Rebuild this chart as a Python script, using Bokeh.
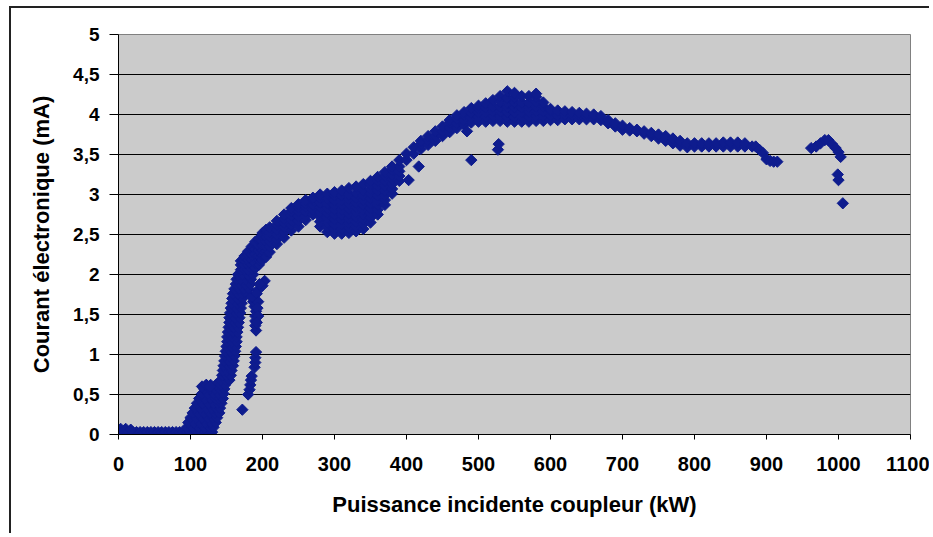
from bokeh.plotting import figure
from bokeh.models import Range1d, FixedTicker, CustomJSTickFormatter
from bokeh.embed import file_html
from bokeh.resources import INLINE

# ---------------- data ----------------
x_ticks = [0, 100, 200, 300, 400, 500, 600, 700, 800, 900, 1000, 1100]
y_ticks = [0, 0.5, 1, 1.5, 2, 2.5, 3, 3.5, 4, 4.5, 5]

# low-power baseline (kW, mA)
base_x = [0, 5, 10, 15, 20, 25, 30, 35, 40, 45, 50, 55, 60, 65, 70, 75, 80, 85,
          90, 95, 100, 105, 110, 115, 120, 125, 130, 3, 10, 17]
base_y = [0.03, 0.03, 0.03, 0.03, 0.03, 0.03, 0.03, 0.03, 0.03, 0.03, 0.03, 0.03,
          0.03, 0.03, 0.03, 0.03, 0.03, 0.03, 0.03, 0.03, 0.03, 0.03, 0.03, 0.03,
          0.03, 0.03, 0.03, 0.07, 0.07, 0.06]

# steep rise: (mA, [kW ...])
rise_rows = [
    (0.09, [95, 103, 111, 119, 126, 132]),
    (0.15, [97, 105, 113, 121, 128, 135]),
    (0.21, [100, 108, 116, 124, 131, 137]),
    (0.27, [103, 111, 119, 127, 134, 140]),
    (0.33, [106, 114, 122, 130, 136, 141]),
    (0.39, [109, 117, 125, 132, 138, 143]),
    (0.45, [112, 120, 128, 135, 140, 145]),
    (0.51, [116, 124, 132, 139, 146]),
    (0.57, [119, 127, 134, 141, 147]),
    (0.62, [122, 128, 135, 142, 148]),
    (0.68, [142, 149, 154]),
    (0.74, [144, 150, 156]),
    (0.80, [145, 151, 157]),
    (0.86, [146, 153, 159]),
    (0.92, [147, 154, 160]),
    (0.98, [148, 155, 161]),
    (1.04, [149, 156, 162]),
    (1.10, [150, 157, 163]),
    (1.16, [151, 158, 164]),
    (1.22, [151, 158, 164]),
    (1.28, [152, 159, 165]),
    (1.34, [153, 160, 166]),
    (1.40, [154, 161, 167]),
    (1.46, [154, 162, 168]),
    (1.52, [155, 163, 169]),
    (1.58, [156, 164, 170]),
    (1.64, [157, 165, 171]),
    (1.70, [158, 166, 172]),
    (1.76, [159, 166, 172, 178]),
    (1.82, [161, 167, 174, 181]),
    (1.88, [163, 169, 176, 183]),
    (1.94, [164, 170, 177, 184]),
    (2.00, [166, 172, 180, 187]),
]

# bend of the curve: (kW, [mA ...])
arc_cols = [
    (170, [2.06, 2.12, 2.17]),
    (175, [2.06, 2.12, 2.18, 2.23]),
    (180, [2.06, 2.12, 2.18, 2.24, 2.29]),
    (185, [2.07, 2.13, 2.19, 2.25, 2.31, 2.35]),
    (190, [2.08, 2.14, 2.20, 2.26, 2.32, 2.38, 2.41]),
    (195, [2.12, 2.18, 2.24, 2.30, 2.36, 2.42, 2.45]),
    (200, [2.18, 2.24, 2.30, 2.36, 2.42, 2.48, 2.52]),
    (205, [2.22, 2.29, 2.35, 2.41, 2.47, 2.53, 2.56]),
    (210, [2.28, 2.35, 2.41, 2.47, 2.53, 2.59]),
    (220, [2.38, 2.44, 2.50, 2.56, 2.62, 2.67]),
    (230, [2.46, 2.53, 2.59, 2.65, 2.70, 2.75]),
    (240, [2.55, 2.62, 2.68, 2.74, 2.79, 2.83]),
    (250, [2.60, 2.67, 2.73, 2.79, 2.84, 2.88]),
    (260, [2.68, 2.73, 2.79, 2.85, 2.89, 2.93]),
    (270, [2.75, 2.81, 2.87, 2.93, 2.96]),
    (280, [2.60, 2.66, 2.72, 2.78, 2.84, 2.90, 2.96, 3.00]),
    (290, [2.53, 2.59, 2.65, 2.71, 2.77, 2.83, 2.89, 2.95, 3.01]),
    (300, [2.51, 2.57, 2.63, 2.69, 2.75, 2.81, 2.87, 2.93, 2.99, 3.03]),
    (310, [2.51, 2.57, 2.63, 2.69, 2.75, 2.81, 2.87, 2.93, 2.99, 3.05]),
    (320, [2.52, 2.58, 2.64, 2.70, 2.76, 2.82, 2.88, 2.94, 3.00, 3.08]),
    (330, [2.54, 2.60, 2.66, 2.72, 2.78, 2.84, 2.90, 2.96, 3.02, 3.10]),
    (340, [2.57, 2.63, 2.69, 2.75, 2.81, 2.87, 2.93, 2.99, 3.05, 3.13]),
    (350, [2.65, 2.71, 2.77, 2.83, 2.89, 2.95, 3.01, 3.07, 3.13, 3.17]),
    (360, [2.75, 2.81, 2.87, 2.93, 2.99, 3.05, 3.11, 3.17, 3.22]),
    (370, [2.87, 2.93, 2.99, 3.05, 3.11, 3.17, 3.23, 3.28]),
    (380, [3.01, 3.07, 3.13, 3.19, 3.25, 3.31, 3.35]),
    (390, [3.17, 3.23, 3.29, 3.35, 3.43]),
]

# climb to the maximum and plateau: (kW, [mA ...])
top_cols = [
    (400, [3.43, 3.51]),
    (410, [3.51, 3.59]),
    (420, [3.57, 3.63, 3.67]),
    (430, [3.62, 3.68, 3.73]),
    (440, [3.67, 3.73, 3.79]),
    (450, [3.73, 3.79, 3.85]),
    (460, [3.78, 3.84, 3.90, 3.93]),
    (470, [3.83, 3.89, 3.95, 3.99]),
    (480, [3.87, 3.93, 3.99, 4.03]),
    (490, [3.90, 3.96, 4.02, 4.08]),
    (500, [3.91, 3.97, 4.03, 4.08, 4.11]),
    (510, [3.91, 3.97, 4.03, 4.09, 4.14]),
    (520, [3.92, 3.98, 4.04, 4.10, 4.18]),
    (530, [3.92, 3.98, 4.04, 4.10, 4.16, 4.23]),
    (540, [3.91, 3.97, 4.03, 4.09, 4.15, 4.21, 4.29]),
    (550, [3.91, 3.97, 4.03, 4.09, 4.15, 4.21, 4.27]),
    (560, [3.91, 3.97, 4.03, 4.09, 4.15, 4.23]),
    (570, [3.91, 3.97, 4.03, 4.09, 4.15, 4.23]),
    (580, [3.92, 3.98, 4.04, 4.10, 4.16, 4.22, 4.26]),
    (590, [3.92, 3.98, 4.04, 4.10, 4.15]),
    (600, [3.93, 3.99, 4.05, 4.07]),
    (610, [3.93, 3.99, 4.05]),
    (620, [3.94, 4.00, 4.04]),
    (630, [3.94, 3.99, 4.03]),
    (640, [3.94, 3.99, 4.02]),
    (650, [3.94, 3.98, 4.01]),
    (660, [3.94, 3.98, 4.00]),
    (670, [3.93, 3.98]),
]

# slow decrease at high power: (kW, [mA ...])
tail_cols = [
    (680, [3.89, 3.93]),
    (690, [3.85, 3.89]),
    (700, [3.81, 3.86]),
    (710, [3.80, 3.83]),
    (720, [3.79, 3.81]),
    (730, [3.76, 3.79]),
    (740, [3.73, 3.77]),
    (750, [3.70, 3.75]),
    (760, [3.67, 3.73]),
    (770, [3.64, 3.70]),
    (780, [3.61, 3.67]),
    (790, [3.59, 3.64]),
    (800, [3.60, 3.64]),
    (810, [3.60, 3.64]),
    (820, [3.60, 3.64]),
    (830, [3.60, 3.64]),
    (840, [3.60, 3.65]),
    (850, [3.60, 3.65]),
    (860, [3.60, 3.65]),
    (870, [3.60, 3.64]),
    (880, [3.60]),
    (885, [3.60]),
    (890, [3.56]),
    (895, [3.52]),
    (900, [3.44]),
    (905, [3.42]),
    (910, [3.41]),
    (915, [3.41]),
]

# isolated points
out_x = [172, 180, 182, 183, 184, 185, 189, 190, 190, 191,
         191, 190, 190, 190, 191, 189, 187, 185, 200, 203,
         193, 192, 194, 193, 194, 192, 196,
         116, 122, 127,
         403, 417, 484, 490, 527, 528,
         962, 969, 975, 981, 986, 991, 996, 1000, 1003, 999, 1000, 1006]
out_y = [0.31, 0.50, 0.56, 0.62, 0.68, 0.73, 0.84, 0.90, 0.96, 1.03,
         1.30, 1.36, 1.42, 1.48, 1.54, 1.60, 1.66, 1.72, 1.86, 1.92,
         1.80, 1.76, 1.66, 1.58, 1.48, 1.40, 1.88,
         0.60, 0.62, 0.60,
         3.18, 3.35, 3.79, 3.43, 3.56, 3.63,
         3.58, 3.60, 3.64, 3.68, 3.68, 3.63, 3.58, 3.53, 3.47, 3.25, 3.18, 2.89]

# ---------------- assemble the scatter series ----------------
xs, ys = list(base_x), list(base_y)
for yv, xl in rise_rows:
    xs += xl
    ys += [yv] * len(xl)
for group in (arc_cols, top_cols, tail_cols):
    for xv, yl in group:
        xs += [xv] * len(yl)
        ys += yl
xs += out_x
ys += out_y

FONT = "Liberation Sans"
NAVY = "#0e1c8e"

p = figure(width=920, height=527,
           x_range=Range1d(0, 1100), y_range=Range1d(0, 5),
           output_backend="svg", toolbar_location=None,
           min_border_left=107, min_border_right=21,
           min_border_top=26, min_border_bottom=101,
           background_fill_color="#cbcbcb", border_fill_color="white")

p.outline_line_color = "#808080"
p.outline_line_width = 1
p.styles = {"margin-left": "9px", "margin-top": "6px",
            "border-left": "2px solid #222222", "border-top": "2px solid #222222"}

p.scatter(xs, ys, marker="square", angle=0.785398, size=8,
          fill_color=NAVY, line_color=NAVY, line_width=1)

# x axis
xa = p.xaxis[0]
xa.ticker = FixedTicker(ticks=x_ticks)
xa.axis_line_color = "black"
xa.axis_line_width = 1
xa.major_tick_out = 5
xa.major_tick_in = 0
xa.minor_tick_out = 0
xa.minor_tick_in = 0
xa.major_tick_line_color = "black"
xa.major_label_text_font = FONT
xa.major_label_text_font_style = "bold"
xa.major_label_text_font_size = "20px"
xa.major_label_text_color = "black"
xa.major_label_standoff = 17
xa.axis_label = "Puissance incidente coupleur (kW)"
xa.axis_label_text_font = FONT
xa.axis_label_text_font_style = "bold"
xa.axis_label_text_font_size = "22px"
xa.axis_label_text_color = "black"
xa.axis_label_standoff = 18

# y axis
ya = p.yaxis[0]
ya.ticker = FixedTicker(ticks=y_ticks)
ya.formatter = CustomJSTickFormatter(code="return tick.toString().replace('.', ',');")
ya.axis_line_color = "black"
ya.axis_line_width = 1
ya.major_tick_out = 9
ya.major_tick_in = 0
ya.minor_tick_out = 0
ya.minor_tick_in = 0
ya.major_tick_line_color = "black"
ya.major_label_text_font = FONT
ya.major_label_text_font_style = "bold"
ya.major_label_text_font_size = "19px"
ya.major_label_text_color = "black"
ya.major_label_standoff = 10
ya.axis_label = "Courant électronique (mA)"
ya.axis_label_text_font = FONT
ya.axis_label_text_font_style = "bold"
ya.axis_label_text_font_size = "22px"
ya.axis_label_text_color = "black"
ya.axis_label_standoff = 16

p.xgrid.visible = False
p.ygrid.ticker = FixedTicker(ticks=y_ticks[1:-1])
p.ygrid.grid_line_color = "black"
p.ygrid.grid_line_width = 1

open("out.html", "w").write(file_html(p, INLINE))
